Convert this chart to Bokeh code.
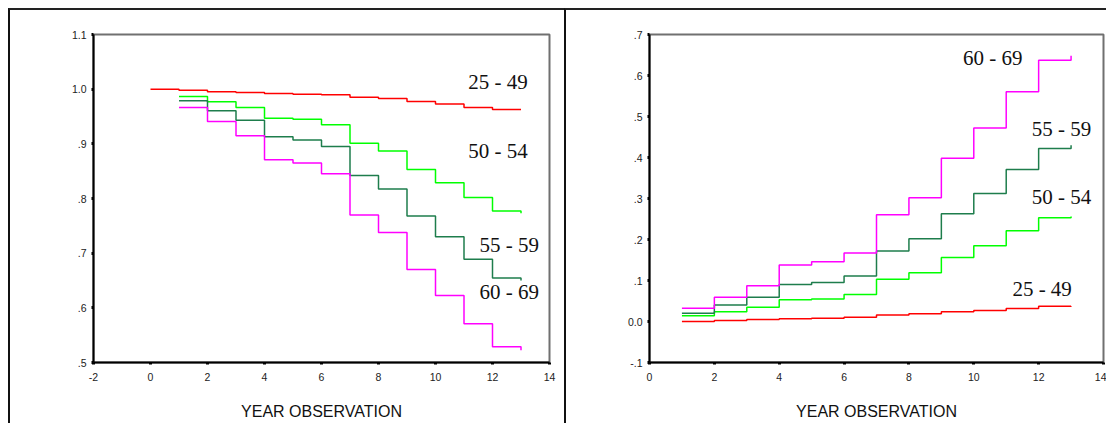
from bokeh.plotting import figure
from bokeh.layouts import row
from bokeh.models import FixedTicker, Label
from bokeh.embed import file_html
from bokeh.resources import INLINE

# ---------------- data ----------------
groups = ["25 - 49", "50 - 54", "55 - 59", "60 - 69"]
colors = ["#ff0000", "#00ff00", "#1e7d4c", "#ff00ff"]

# Left panel: cumulative survival
surv_t_25 = [0, 1, 2, 3, 4, 5, 6, 7, 8, 9, 10, 11, 12, 13]
surv_25 = [1.0, 0.998, 0.9955, 0.9937, 0.992, 0.9905, 0.990, 0.985, 0.983, 0.9775, 0.973, 0.9665, 0.963, 0.963]
surv_t = [1, 2, 3, 4, 5, 6, 7, 8, 9, 10, 11, 12, 13]
surv_50 = [0.9866, 0.977, 0.9665, 0.947, 0.945, 0.935, 0.901, 0.887, 0.853, 0.829, 0.802, 0.777, 0.773]
surv_55 = [0.9787, 0.9605, 0.943, 0.913, 0.907, 0.895, 0.842, 0.8175, 0.768, 0.730, 0.689, 0.6545, 0.650]
surv_60 = [0.9665, 0.941, 0.915, 0.871, 0.865, 0.8455, 0.770, 0.738, 0.670, 0.6225, 0.571, 0.529, 0.5225]

# Right panel: cumulative hazard
haz_t = [1, 2, 3, 4, 5, 6, 7, 8, 9, 10, 11, 12, 13]
haz_25 = [0.0, 0.0025, 0.005, 0.007, 0.008, 0.0105, 0.016, 0.0187, 0.024, 0.027, 0.032, 0.037, 0.038]
haz_50 = [0.0138, 0.0235, 0.035, 0.053, 0.055, 0.066, 0.103, 0.119, 0.156, 0.185, 0.2215, 0.253, 0.256]
haz_55 = [0.020, 0.040, 0.059, 0.090, 0.095, 0.111, 0.172, 0.202, 0.263, 0.3125, 0.371, 0.422, 0.430]
haz_60 = [0.0325, 0.059, 0.087, 0.138, 0.146, 0.167, 0.2605, 0.302, 0.398, 0.472, 0.5606, 0.637, 0.648]

# tick labels
left_xticks = [-2, 0, 2, 4, 6, 8, 10, 12, 14]
left_yticks = [0.5, 0.6, 0.7, 0.8, 0.9, 1.0, 1.1]
left_ylabels = [".5", ".6", ".7", ".8", ".9", "1.0", "1.1"]
right_xticks = [0, 2, 4, 6, 8, 10, 12, 14]
right_yticks = [-0.1, 0.0, 0.1, 0.2, 0.3, 0.4, 0.5, 0.6, 0.7]
right_ylabels = ["-.1", "0.0", ".1", ".2", ".3", ".4", ".5", ".6", ".7"]
x_title = "YEAR OBSERVATION"

# label anchor positions (data coords), one per group
left_label_pos = [(11.15, 1.0127), (11.15, 0.8867), (11.54, 0.7157), (11.54, 0.6297)]
right_label_pos = [(11.19, 0.079), (11.79, 0.303), (11.79, 0.470), (9.67, 0.6415)]


def style(p, xticks, yticks, ylabels):
    p.xaxis.ticker = FixedTicker(ticks=xticks)
    p.yaxis.ticker = FixedTicker(ticks=yticks)
    p.yaxis.major_label_overrides = {t: l for t, l in zip(yticks, ylabels)}
    p.xaxis.major_label_overrides = {t: str(t) for t in xticks}
    for ax in (p.xaxis[0], p.yaxis[0]):
        ax.axis_line_color = "black"
        ax.axis_line_width = 2
        ax.major_tick_line_color = "black"
        ax.major_tick_line_width = 3
        ax.major_tick_in = 0
        ax.major_tick_out = 2
        ax.minor_tick_line_color = None
        ax.major_label_text_font = "Liberation Sans"
        ax.major_label_text_font_size = "10.5px"
        ax.major_label_text_color = "#222222"
    p.xaxis.major_label_standoff = 8
    p.yaxis.major_label_standoff = 5
    p.xaxis.axis_label = x_title
    p.xaxis.axis_label_text_font = "Liberation Sans"
    p.xaxis.axis_label_text_font_size = "16px"
    p.xaxis.axis_label_text_font_style = "normal"
    p.xaxis.axis_label_text_color = "#111111"
    p.xaxis.axis_label_standoff = 19
    p.xgrid.visible = False
    p.ygrid.visible = False
    p.outline_line_color = "#707070"
    p.outline_line_width = 2
    p.background_fill_color = "white"
    p.border_fill_color = "white"


def add_label(p, x, y, text):
    p.add_layout(Label(x=x, y=y, text=text, text_font="Liberation Serif",
                       text_font_size="21px", text_color="#111111",
                       text_baseline="alphabetic", text_align="left"))


# ---------------- left panel ----------------
p1 = figure(width=556, height=415, x_range=(-2, 14), y_range=(0.5, 1.1),
            output_backend="svg", toolbar_location=None,
            min_border_left=83, min_border_right=17, min_border_top=24, min_border_bottom=63)
style(p1, left_xticks, left_yticks, left_ylabels)
p1.step(surv_t_25, surv_25, mode="after", line_color=colors[0], line_width=1.5)
for ys, c in zip([surv_50, surv_55, surv_60], colors[1:]):
    p1.step(surv_t, ys, mode="after", line_color=c, line_width=1.5)
for (x, y), g in zip(left_label_pos, groups):
    add_label(p1, x, y, g)
p1.styles = {"border-left": "2px solid #111", "border-top": "2px solid #222"}

# ---------------- right panel ----------------
p2 = figure(width=542, height=415, x_range=(0, 14), y_range=(-0.1, 0.7),
            output_backend="svg", toolbar_location=None,
            min_border_left=83, min_border_right=5, min_border_top=24, min_border_bottom=63)
style(p2, right_xticks, right_yticks, right_ylabels)
for ys, c in zip([haz_25, haz_50, haz_55, haz_60], colors):
    p2.step(haz_t, ys, mode="after", line_color=c, line_width=1.5)
for (x, y), g in zip(right_label_pos, groups):
    add_label(p2, x, y, g)
p2.styles = {"border-left": "2px solid #111", "border-top": "2px solid #222"}

layout = row(p1, p2, margin=(8, 0, 0, 8))
open("out.html", "w").write(file_html(layout, INLINE))
